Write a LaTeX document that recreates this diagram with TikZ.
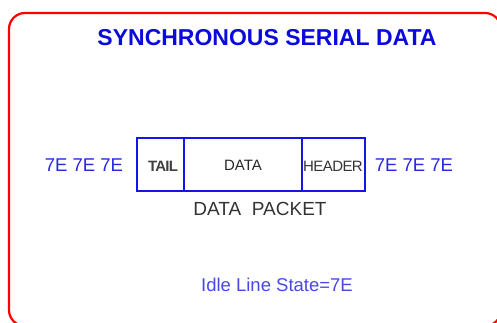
\documentclass[tikz,border=0pt]{standalone}
\usepackage{fontspec}
\setmainfont{Liberation Sans}
\begin{document}
\begin{tikzpicture}[x=1pt,y=-1pt,
  frame/.style={draw=red, line width=2.2pt, rounded corners=16pt},
  cell/.style={draw=pktblue, line width=1.8pt},
  celltext/.style={text=black!85, inner sep=0pt, font=\fontsize{15}{15}\selectfont},
  bluetext/.style={text=txtblue, inner sep=0pt, font=\fontsize{18.5}{18.5}\selectfont},
]
\definecolor{pktblue}{RGB}{20,20,235}
\definecolor{txtblue}{RGB}{40,40,225}
\definecolor{ttlblue}{RGB}{10,10,220}
\useasboundingbox (0,0) rectangle (497,322);
\clip (0,0) rectangle (497,322);
\draw[frame] (9,13) rectangle (501,326);
\node[text=ttlblue, inner sep=0pt, font=\fontsize{23}{23}\selectfont\bfseries] (title) at (267,38) {SYNCHRONOUS SERIAL DATA};
\draw[cell] (137,138) rectangle (184,191);
\draw[cell] (184,138) rectangle (302,191);
\draw[cell] (302,138) rectangle (365,191);
\coordinate (tailc) at (163,166);
\coordinate (datac) at (243,165);
\coordinate (headc) at (333,166);
\node[celltext, font=\fontsize{15}{15}\selectfont\bfseries, text=black!75] (tail) at (tailc) {\addfontfeature{LetterSpace=-5}TAIL};
\node[celltext] (data) at (datac) {DATA};
\node[celltext, font=\fontsize{15}{15}\selectfont, text=black!80] (head) at (headc) {\addfontfeature{LetterSpace=-4}HEADER};
\node[bluetext] (left) at (84,165) {7E 7E 7E};
\node[bluetext] (right) at (414,165) {7E 7E 7E};
\node[celltext, font=\fontsize{19}{19}\selectfont, text=black!80] (pkt) at (260,209) {DATA\ \ PACKET};
\node[text=txtblue!85!white, inner sep=0pt, font=\fontsize{18.5}{18.5}\selectfont] (idle) at (277,285) {Idle Line State=7E};
\end{tikzpicture}
\end{document}
